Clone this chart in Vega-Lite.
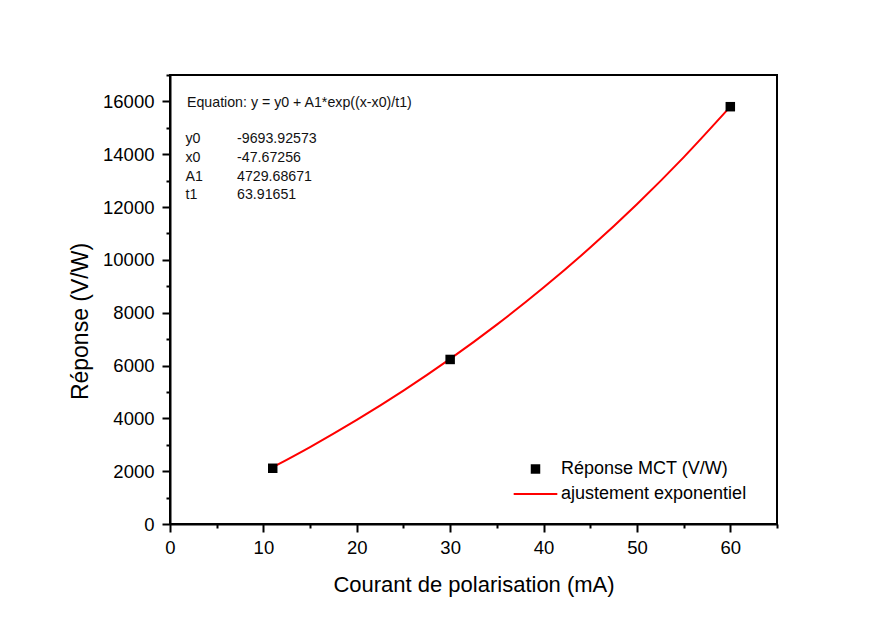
{
  "$schema": "https://vega.github.io/schema/vega-lite/v6.json",
  "width": 607,
  "height": 449,
  "autosize": "none",
  "padding": {"left": 170, "top": 75, "right": 110, "bottom": 98},
  "background": "white",
  "config": {
    "font": "Liberation Sans",
    "view": {"stroke": "black", "strokeWidth": 2},
    "axis": {
      "grid": false,
      "labelFlush": false,
      "labelOverlap": false,
      "domainColor": "black",
      "domainWidth": 2,
      "tickColor": "black",
      "tickWidth": 2,
      "tickSize": 8,
      "labelFont": "Liberation Sans",
      "labelFontSize": 18.5,
      "labelColor": "black",
      "titleFont": "Liberation Sans",
      "titleFontWeight": "normal",
      "titleColor": "black"
    },
    "legend": {
      "orient": "none",
      "legendX": 356.5,
      "legendY": 385,
      "padding": 0,
      "labelFont": "Liberation Sans",
      "labelFontSize": 18,
      "labelColor": "black",
      "labelLimit": 0,
      "labelOffset": 16.5,
      "rowPadding": 7,
      "symbolSize": 90,
      "symbolOpacity": 1,
      "symbolStrokeWidth": 0
    }
  },
  "datasets": {
    "pts": [
      {"courant": 11, "reponse": 2110, "series": "Réponse MCT (V/W)"},
      {"courant": 30, "reponse": 6230, "series": "Réponse MCT (V/W)"},
      {"courant": 60, "reponse": 15800, "series": "Réponse MCT (V/W)"}
    ],
    "fit": [
      {"courant": 11, "reponse": 2150},
      {"courant": 15, "reponse": 2915},
      {"courant": 20, "reponse": 3941},
      {"courant": 25, "reponse": 5050},
      {"courant": 30, "reponse": 6250},
      {"courant": 35, "reponse": 7548},
      {"courant": 40, "reponse": 8951},
      {"courant": 45, "reponse": 10467},
      {"courant": 50, "reponse": 12108},
      {"courant": 55, "reponse": 13882},
      {"courant": 60, "reponse": 15800}
    ],
    "one": [{}]
  },
  "resolve": {"axis": {"x": "independent", "y": "independent"}},
  "layer": [
    {
      "data": {"name": "fit"},
      "mark": {"type": "line", "color": "#ff0000", "strokeWidth": 2, "interpolate": "monotone"},
      "encoding": {
        "x": {
          "field": "courant", "type": "quantitative",
          "scale": {"domain": [0, 65], "nice": false, "zero": false},
          "axis": {
            "orient": "bottom",
            "values": [0, 10, 20, 30, 40, 50, 60],
            "labelPadding": 6,
            "title": "Courant de polarisation (mA)",
            "titleFontSize": 22,
            "titleBaseline": "alphabetic",
            "titleY": 67
          }
        },
        "y": {
          "field": "reponse", "type": "quantitative",
          "scale": {"domain": [0, 17000], "nice": false},
          "axis": {
            "orient": "left",
            "values": [0, 2000, 4000, 6000, 8000, 10000, 12000, 14000, 16000],
            "format": "d",
            "labelPadding": 8,
            "title": "Réponse (V/W)",
            "titleFontSize": 23,
            "titleBaseline": "alphabetic",
            "titleAngle": -90,
            "titleX": -83,
            "titleY": 246
          }
        }
      }
    },
    {
      "data": {"name": "pts"},
      "mark": {"type": "point", "filled": true, "size": 90, "opacity": 1},
      "encoding": {
        "x": {
          "field": "courant", "type": "quantitative",
          "axis": {
            "orient": "bottom",
            "values": [5, 15, 25, 35, 45, 55, 65],
            "labels": false, "domain": false, "tickSize": 4, "title": null
          }
        },
        "y": {
          "field": "reponse", "type": "quantitative",
          "axis": {
            "orient": "left",
            "values": [1000, 3000, 5000, 7000, 9000, 11000, 13000, 15000, 17000],
            "labels": false, "domain": false, "tickSize": 4, "title": null
          }
        },
        "color": {
          "field": "series", "type": "nominal",
          "scale": {"domain": ["Réponse MCT (V/W)", "ajustement exponentiel"], "range": ["black", "#ff0000"]},
          "legend": {"title": null}
        },
        "shape": {
          "field": "series", "type": "nominal",
          "scale": {"domain": ["Réponse MCT (V/W)", "ajustement exponentiel"], "range": ["square", "M-4.6,-0.21H4.6V0.21H-4.6Z"]},
          "legend": {"title": null}
        }
      }
    },
    {
      "data": {"name": "one"},
      "mark": {"type": "text", "align": "left", "baseline": "alphabetic", "fontSize": 14.2, "font": "Liberation Sans", "color": "#111"},
      "encoding": {
        "x": {"datum": 1.82, "type": "quantitative", "axis": null},
        "y": {"datum": 15777, "type": "quantitative", "axis": null},
        "text": {"value": "Equation: y = y0 + A1*exp((x-x0)/t1)"}
      }
    },
    {
      "data": {"name": "one"},
      "mark": {"type": "text", "align": "left", "baseline": "alphabetic", "fontSize": 14.2, "font": "Liberation Sans", "color": "#111", "lineHeight": 18.7},
      "encoding": {
        "x": {"datum": 1.66, "type": "quantitative", "axis": null},
        "y": {"datum": 14414, "type": "quantitative", "axis": null},
        "text": {"value": ["y0", "x0", "A1", "t1"]}
      }
    },
    {
      "data": {"name": "one"},
      "mark": {"type": "text", "align": "left", "baseline": "alphabetic", "fontSize": 14.2, "font": "Liberation Sans", "color": "#111", "lineHeight": 18.7},
      "encoding": {
        "x": {"datum": 7.18, "type": "quantitative", "axis": null},
        "y": {"datum": 14414, "type": "quantitative", "axis": null},
        "text": {"value": ["-9693.92573", "-47.67256", "4729.68671", "63.91651"]}
      }
    }
  ]
}
